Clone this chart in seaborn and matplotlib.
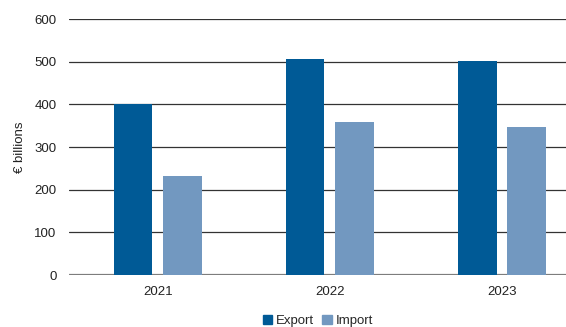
import pandas as pd
import matplotlib.pyplot as plt
import seaborn as sns

# values
years = ["2021", "2022", "2023"]
export_vals = [400, 507, 501]
import_vals = [232, 359, 347]

df = pd.DataFrame({
    "year": years * 2,
    "value": export_vals + import_vals,
    "flow": ["Export"] * 3 + ["Import"] * 3,
})

sns.set_style("white")
plt.rcParams["font.family"] = ["Liberation Sans", "DejaVu Sans"]

fig = plt.figure(figsize=(5.66, 3.27), dpi=100)
ax = fig.add_axes([69 / 566, 1 - 275 / 327, 1 - 69 / 566, (275 - 19) / 327])

sns.barplot(data=df, x="year", y="value", hue="flow",
            palette=["#005a96", "#7298c0"], width=0.58, gap=0.22,
            saturation=1, linewidth=0, ax=ax, legend=False)

ax.set_ylim(0, 600)
ax.set_yticks(range(0, 601, 100))
ax.set_xlim(-0.517, 2.372)
ax.yaxis.grid(True, color="#333333", linewidth=0.9)
ax.set_axisbelow(True)
for s in ax.spines.values():
    s.set_visible(False)
ax.axhline(0, color="#888888", linewidth=1.6, zorder=0.5)
ax.tick_params(axis="both", length=0, labelsize=9.5, colors="#222222")
ax.tick_params(axis="y", pad=9)
ax.tick_params(axis="x", pad=8)
ax.set_xlabel("")
ax.set_ylabel("€ billions", fontsize=9.5, color="#222222", labelpad=6)

handles = [plt.Rectangle((0, 0), 1, 1, color=c) for c in ["#005a96", "#7298c0"]]
fig.legend(handles, ["Export", "Import"], loc="center", bbox_to_anchor=(318 / 566, 1 - 321 / 327),
           ncol=2, frameon=False, fontsize=9.5, handlelength=0.7, handleheight=0.7,
           handletextpad=0.3, columnspacing=0.6, borderpad=0)

fig.savefig("out.png", dpi=100)
